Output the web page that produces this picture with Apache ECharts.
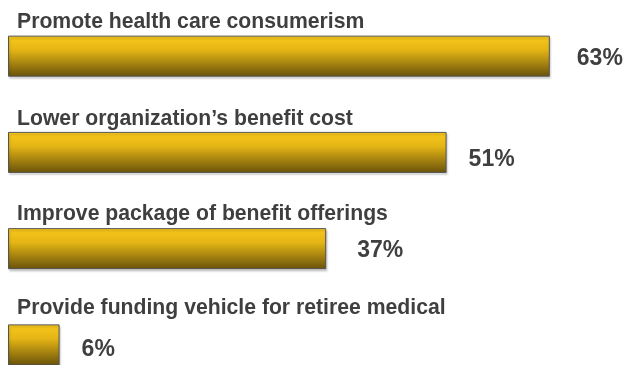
<!DOCTYPE html>
<html>
<head>
<meta charset="utf-8">
<script src="https://cdn.jsdelivr.net/npm/echarts@6/dist/echarts.min.js"></script>
<style>
  html, body { margin: 0; padding: 0; background: #ffffff; overflow: hidden; }
  /* the plot runs past the bottom edge of the window, so the last bar is cut off */
  #chart { width: 628px; height: 394px; }
</style>
</head>
<body>
<div id="chart"></div>
<script>
// Reasons for offering the plan, share of respondents (%)
const categories = [
  'Promote health care consumerism',
  'Lower organization\u2019s benefit cost',
  'Improve package of benefit offerings',
  'Provide funding vehicle for retiree medical'
];
const values = [63, 51, 37, 6];

// Small per-row layout tweaks for the text placed around each bar
const valueGaps = [27, 22, 31, 22];
const valueShift = [3, 7, 2, 5];
const titleLift = [0, 0, 1, 3];

const FONT = 'Arial, "Liberation Sans", Helvetica, sans-serif';
const TEXT = '#3f3f3f';

const barFill = new echarts.graphic.LinearGradient(0, 0, 0, 1, [
  { offset: 0, color: '#F9C91B' },
  { offset: 0.35, color: '#E4B515' },
  { offset: 1, color: '#69520A' }
]);

const chart = echarts.init(document.getElementById('chart'), null, { renderer: 'canvas' });

chart.setOption({
  animation: false,
  backgroundColor: '#ffffff',
  grid: { left: 8, top: 8, width: 602, height: 385, containLabel: false },
  xAxis: {
    type: 'value', min: 0, max: 70,
    show: false
  },
  yAxis: {
    type: 'category', data: categories, inverse: true,
    show: false
  },
  series: [
    {
      // the bars themselves, with the percentage to the right
      type: 'bar',
      barWidth: 41,
      data: values.map((v, i) => ({
        value: v,
        label: { distance: valueGaps[i], offset: [0, valueShift[i]] }
      })),
      itemStyle: {
        color: barFill,
        borderColor: '#545454',
        borderWidth: 1,
        shadowColor: 'rgba(0,0,0,0.18)',
        shadowBlur: 2,
        shadowOffsetX: 1,
        shadowOffsetY: 2
      },
      label: {
        show: true,
        position: 'right',
        formatter: '{c}%',
        color: TEXT,
        fontFamily: FONT,
        fontWeight: 'bold',
        fontSize: 23
      },
      z: 2
    },
    {
      // transparent twin series that carries the category caption above each bar
      type: 'bar',
      barWidth: 41,
      barGap: '-100%',
      data: values.map((v, i) => ({
        value: v,
        label: { position: [9, -13 - titleLift[i]] }
      })),
      itemStyle: { color: 'rgba(0,0,0,0)' },
      label: {
        show: true,
        formatter: '{b}',
        align: 'left',
        verticalAlign: 'middle',
        color: TEXT,
        fontFamily: FONT,
        fontWeight: 'bold',
        fontSize: 21.2
      },
      silent: true,
      z: 3
    }
  ]
});
</script>
</body>
</html>
